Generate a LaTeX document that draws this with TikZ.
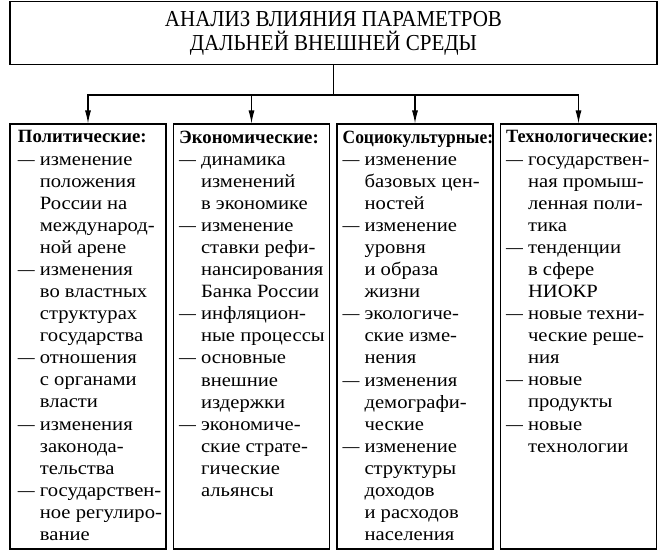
\documentclass[tikz,border=0pt]{standalone}
\usepackage{fontspec}
\usepackage{graphicx}
\setmainfont{Liberation Serif}
\newfontfamily\bodyfont{Liberation Serif}[FakeStretch=1.1]
\newfontfamily\titlefont{Liberation Serif}[FakeStretch=0.92]
\usetikzlibrary{arrows.meta, positioning}
\newcommand{\itm}{\makebox[18.7pt][l]{\scalebox{0.82}[1]{—}}}
\newcommand{\cnt}{\hspace*{18.7pt}}
\newcommand{\hdr}[1]{{\rmfamily\bfseries #1}}
\tikzset{
  every picture/.style={line width=0.9pt},
  head/.style={draw, minimum width=19.41cm, minimum height=1.89cm, align=center, inner sep=0pt, font=\titlefont\fontsize{19.5}{20.4}\selectfont},
  colbox/.style={draw, minimum width=4.68cm, minimum height=12.75cm, inner sep=0pt},
  coltxt/.style={anchor=north west, inner sep=0pt, align=left, font=\bodyfont\fontsize{16}{18.85}\selectfont},
  arrow/.style={-{Latex[length=3.9mm, width=1.8mm]}},
}
\begin{document}
\begin{tikzpicture}
  \useasboundingbox (0,0) rectangle (20.01,-16.68);
  \node[head] (head) at (10.005,-1.0) {АНАЛИЗ ВЛИЯНИЯ ПАРАМЕТРОВ\\ДАЛЬНЕЙ ВНЕШНЕЙ СРЕДЫ};
  % four groups of factors
  \node[colbox] (pol) at (2.64,-10.095) {};
  \node[colbox] (eco) at (7.545,-10.095) {};
  \node[colbox] (soc) at (12.45,-10.095) {};
  \node[colbox] (tec) at (17.355,-10.095) {};
  \coordinate (split) at (10.005,-2.85);
  \draw (head.south) -- (split);
  \foreach \c in {pol, eco, soc, tec} { \draw[arrow] (split) -| (\c.north); }
  \node[coltxt] (poltxt) at ([xshift=0.24cm, yshift=-0.2cm]pol.north west) {\hdr{Политические:}\\
    \itm изменение\\ \cnt положения\\ \cnt России на\\ \cnt международ-\\ \cnt ной арене\\
    \itm изменения\\ \cnt во властных\\ \cnt структурах\\ \cnt государства\\
    \itm отношения\\ \cnt с органами\\ \cnt власти\\
    \itm изменения\\ \cnt законода-\\ \cnt тельства\\
    \itm государствен-\\ \cnt ное регулиро-\\ \cnt вание};
  \node[coltxt] (ecotxt) at ([xshift=0.17cm, yshift=-0.2cm]eco.north west) {\hdr{Экономические:}\\
    \itm динамика\\ \cnt изменений\\ \cnt в экономике\\
    \itm изменение\\ \cnt ставки рефи-\\ \cnt нансирования\\ \cnt Банка России\\
    \itm инфляцион-\\ \cnt ные процессы\\
    \itm основные\\ \cnt внешние\\ \cnt издержки\\
    \itm экономиче-\\ \cnt ские страте-\\ \cnt гические\\ \cnt альянсы};
  \node[coltxt] (soctxt) at ([xshift=0.17cm, yshift=-0.2cm]soc.north west) {\hdr{\scalebox{0.93}[1]{Социокультурные:}}\\
    \itm изменение\\ \cnt базовых цен-\\ \cnt ностей\\
    \itm изменение\\ \cnt уровня\\ \cnt и образа\\ \cnt жизни\\
    \itm экологиче-\\ \cnt ские изме-\\ \cnt нения\\
    \itm изменения\\ \cnt демографи-\\ \cnt ческие\\
    \itm изменение\\ \cnt структуры\\ \cnt доходов\\ \cnt и расходов\\ \cnt населения};
  \node[coltxt] (tectxt) at ([xshift=0.17cm, yshift=-0.2cm]tec.north west) {\hdr{\scalebox{0.97}[1]{Технологические:}}\\
    \itm государствен-\\ \cnt ная промыш-\\ \cnt ленная поли-\\ \cnt тика\\
    \itm тенденции\\ \cnt в сфере\\ \cnt НИОКР\\
    \itm новые техни-\\ \cnt ческие реше-\\ \cnt ния\\
    \itm новые\\ \cnt продукты\\
    \itm новые\\ \cnt технологии};
\end{tikzpicture}
\end{document}
